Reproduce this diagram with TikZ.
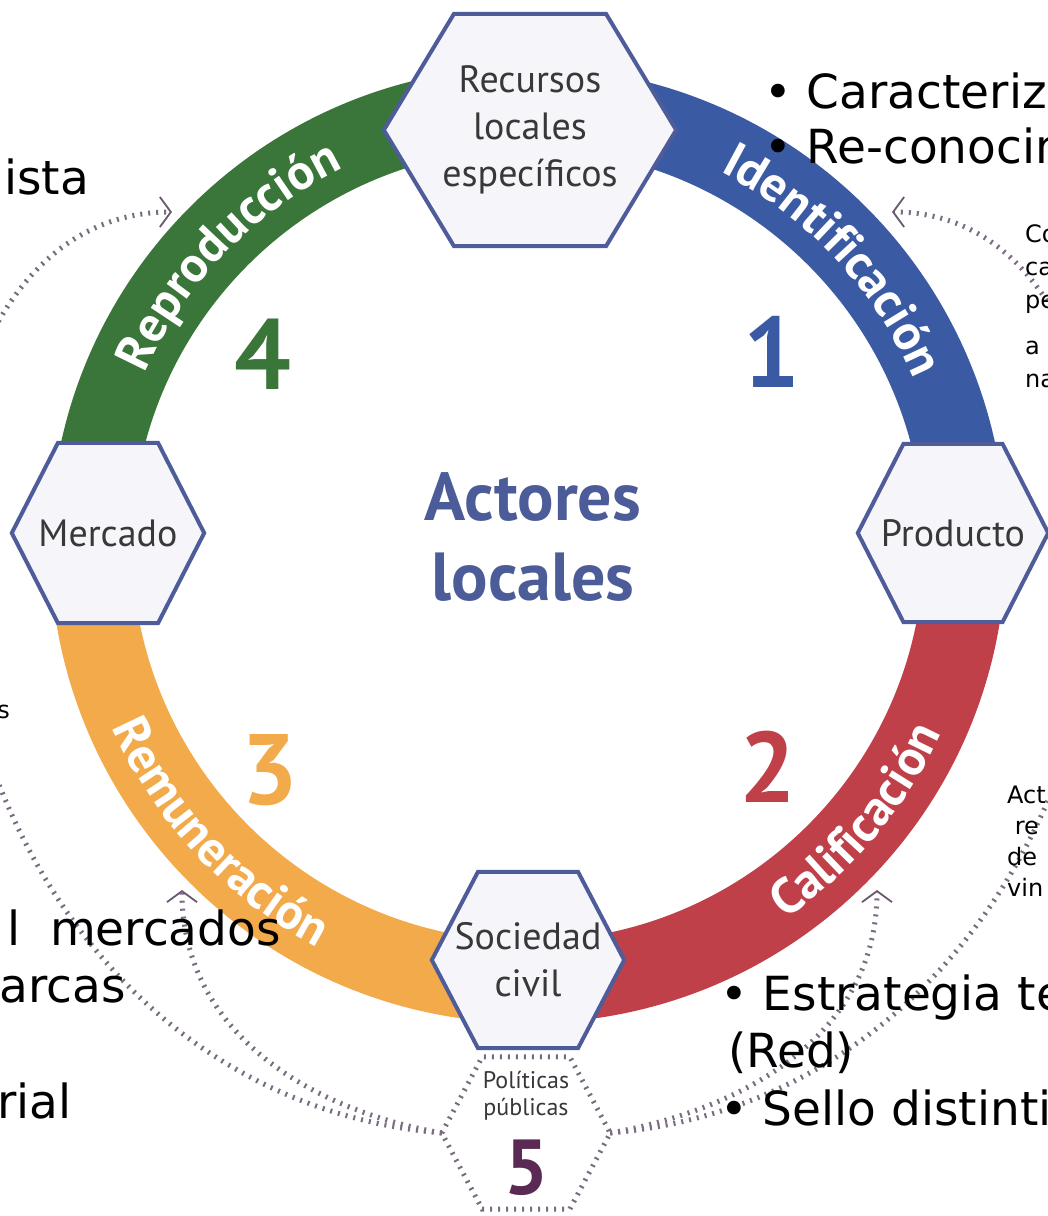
\documentclass[tikz,border=0pt]{standalone}
\usepackage{fontspec}
\setmainfont{DejaVu Sans}
\newfontfamily\myriad{PT Sans}
\usetikzlibrary{arrows.meta,calc,decorations.text}

\definecolor{repgreen}{HTML}{3A753A}
\definecolor{idblue}{HTML}{3A5AA4}
\definecolor{calred}{HTML}{C0404A}
\definecolor{remorange}{HTML}{F2AA4A}
\definecolor{hexblue}{HTML}{4E5C9A}
\definecolor{hexfill}{HTML}{F6F6FA}
\definecolor{hextext}{HTML}{383838}
\definecolor{actblue}{HTML}{4C5C98}
\definecolor{polpurple}{HTML}{5A2A55}
\definecolor{dotgray}{HTML}{7A6C80}
\definecolor{tipgray}{HTML}{6A5870}

\pgfdeclarelayer{ring}
\pgfdeclarelayer{hex}
\pgfsetlayers{ring,hex,main}

\newcommand{\hexpath}[1]{(#1.west) -- ($(#1.north west)!0.24!(#1.north east)$) -- ($(#1.north west)!0.76!(#1.north east)$) -- (#1.east) -- ($(#1.south west)!0.76!(#1.south east)$) -- ($(#1.south west)!0.24!(#1.south east)$) -- cycle}
\newcommand{\bandtext}[4]{\path[decorate,decoration={text along path,text align=center,text color=white,
	text={|\myriad\bfseries\fontsize{50}{50}\selectfont|#4}}] (ctr) ++(#1:#3pt) arc (#1:#2:#3pt);}

\tikzset{
	hexbox/.style={inner sep=0pt,font=\myriad\fontsize{38}{47}\selectfont,text=hextext,align=center},
	hexline/.style={fill=hexfill,draw=hexblue,line width=4pt},
	bignum/.style={inner sep=0pt,font=\myriad\bfseries\fontsize{100}{100}\selectfont},
	dotline/.style={draw=dotgray,line width=5pt,dash pattern=on 2pt off 6pt},
	barb/.style={-{Straight Barb[color=tipgray,length=11pt,width=30pt,line width=1.8pt]}},
	bigtxt/.style={inner sep=0pt,font=\fontsize{47}{55}\selectfont},
	smalltxt/.style={inner sep=0pt,font=\fontsize{24}{33}\selectfont,align=left}
}

\begin{document}
\begin{tikzpicture}[x=1pt,y=1pt]
	\useasboundingbox (0,0) rectangle (1048,-1216);
	\clip (0,0) rectangle (1048,-1216);
	\coordinate (ctr) at (528,-545);

	\begin{pgfonlayer}{ring}
		\fill[white] (0,0) rectangle (1048,-1216);
		\foreach \a/\b/\c in {90/180/repgreen,0/90/idblue,-90/0/calred,180/270/remorange}
			\draw[line width=82pt,\c] (ctr) ++(\a:437pt) arc (\a:\b:437pt);
	\end{pgfonlayer}

	\bandtext{178}{94}{420}{Reproducción}
	\bandtext{85}{1}{420}{Identificación}
	\bandtext{-80}{0}{454}{Calificación}
	\bandtext{183}{263}{454}{Remuneración}

	\node[hexbox,minimum width=292pt,minimum height=232pt] (rec) at (530,-130) {Recursos\\locales\\específicos};
	\node[hexbox,minimum width=192pt,minimum height=180pt] (mer) at (108,-533) {Mercado};
	\node[hexbox,minimum width=190pt,minimum height=178pt] (pro) at (953,-533) {Producto};
	\node[hexbox,minimum width=192pt,minimum height=176pt] (soc) at (528,-960) {Sociedad\\civil};
	\node[hexbox,minimum width=168pt,minimum height=152pt] (pol) at (526,-1133) {};
	\node[hexbox,font=\myriad\fontsize{24}{27}\selectfont] (poltxt) at (526,-1096) {Políticas\\públicas};
	\node[bignum,text=polpurple,font=\myriad\bfseries\fontsize{78}{78}\selectfont] (n5) at (527,-1168) {5};

	\begin{pgfonlayer}{hex}
		\foreach \n in {rec,mer,pro,soc}
			\filldraw[hexline] \hexpath{\n};
		\draw[dotline] \hexpath{pol};
	\end{pgfonlayer}

	\node[bignum,text=idblue] (n1) at (772,-352) {1};
	\node[bignum,text=calred] (n2) at (768,-767) {2};
	\node[bignum,text=remorange] (n3) at (270,-770) {3};
	\node[bignum,text=repgreen] (n4) at (263,-354) {4};
	\node[inner sep=0pt,font=\myriad\bfseries\fontsize{68}{80}\selectfont,text=actblue,align=center] (act) at (533,-537) {Actores\\locales};

	\coordinate (farL) at (-50,-520);
	\coordinate (farR) at (1104,-520);
	\coordinate (tipRep) at (172,-212);
	\coordinate (tipId) at (892,-212);
	\coordinate (tipRem) at (182,-890);
	\coordinate (tipCal) at (877,-890);
	\draw[dotline,barb] (pol.west) to[out=175,in=-90] (farL) to[out=90,in=180] (tipRep);
	\draw[dotline,barb] (pol.east) to[out=5,in=-90] (farR) to[out=90,in=0] (tipId);
	\draw[dotline,barb] (pol.west) to[out=170,in=-90] (tipRem);
	\draw[dotline,barb] (pol.east) to[out=10,in=-90] (tipCal);

	\node[bigtxt,anchor=base east] (ista) at (89,-194) {ista};
	\node[bigtxt,anchor=base west] (cara) at (764,-108) {• Caracteriz};
	\node[bigtxt,anchor=base west] (reco) at (764,-163) {• Re-conocim};
	\node[bigtxt,anchor=base east] (merc) at (281,-945) {l\ \ mercados};
	\node[bigtxt,anchor=base east] (marc) at (126,-1002) {arcas};
	\node[bigtxt,anchor=base east] (rial) at (72,-1118) {rial};
	\node[bigtxt,anchor=base west] (estr) at (720,-1010) {• Estrategia te};
	\node[bigtxt,anchor=base west] (red) at (728,-1067) {(Red)};
	\node[bigtxt,anchor=base west] (sello) at (720,-1125) {• Sello distinti};
	\node[smalltxt,anchor=base west] (co) at (1025,-387) {Co\\ca\\pe\\[13pt]a\\na};
	\node[smalltxt,anchor=base west,font=\fontsize{24}{31}\selectfont] (act2) at (1007,-896) {Act\\\ re\\de\\vin};
	\node[smalltxt,anchor=base east] (s) at (10,-718) {s};
\end{tikzpicture}
\end{document}
